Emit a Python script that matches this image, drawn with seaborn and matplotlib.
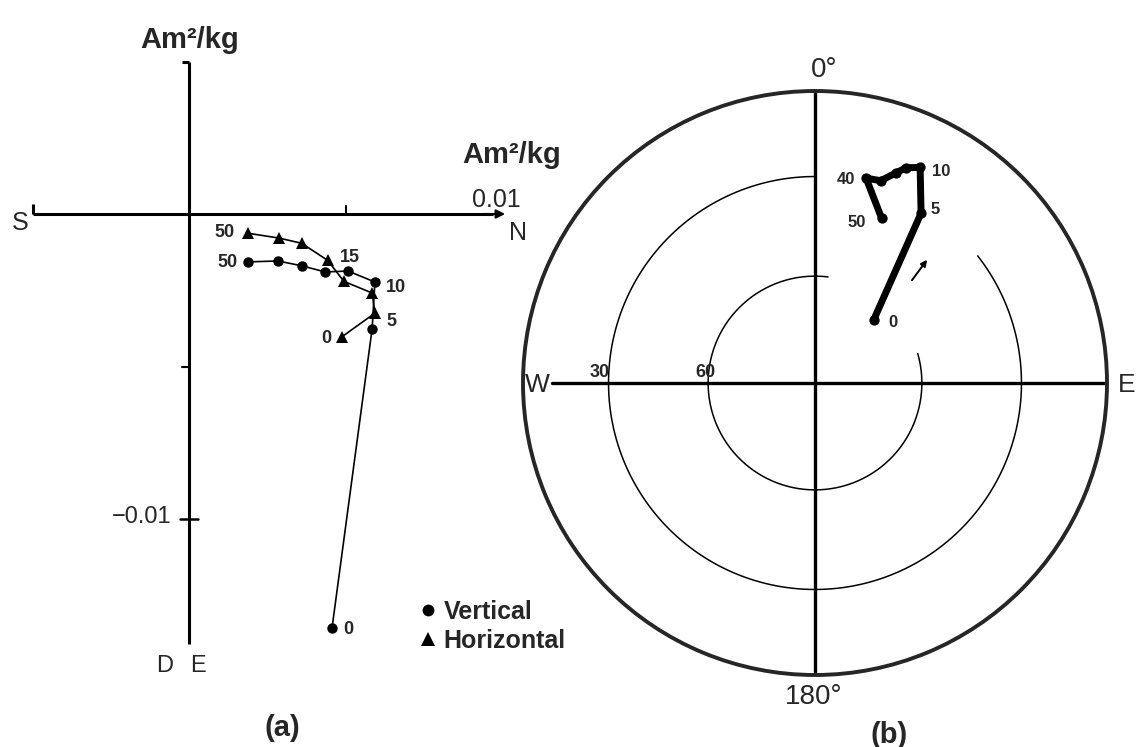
import numpy as np
import pandas as pd
import matplotlib
matplotlib.use("Agg")
import matplotlib.pyplot as plt
from matplotlib.lines import Line2D
import seaborn as sns

# AF demagnetization steps (mT)
steps = [0, 5, 10, 15, 20, 30, 40, 50]

# (a) orthogonal vector plot, components in Am^2/kg
vert_north = [0.00457, 0.00585, 0.00594, 0.00508, 0.00435, 0.00361, 0.00284, 0.00188]
vert_up = [-0.01357, -0.00377, -0.00223, -0.00187, -0.00190, -0.00170, -0.00154, -0.00157]
horiz_north = [0.00488, 0.00594, 0.00585, 0.00495, 0.00443, 0.00360, 0.00288, 0.00188]
horiz_east = [-0.00403, -0.00325, -0.00259, -0.00221, -0.00152, -0.00096, -0.00079, -0.00063]

# (b) direction path on the equal-area net (degrees)
declination = [43, 32, 26, 23, 21, 18, 14, 22]
inclination = [66, 32, 19, 21, 24, 28, 28.5, 39]

# inclination circles of the net and the arc ranges drawn for each (azimuth, deg)
net_circles = [30, 60]
net_arcs = [(52, 360), (74, 367)]

sns.set_style("white")
plt.rcParams["font.family"] = ["Liberation Sans", "DejaVu Sans"]

W, H = 1138, 747
fig = plt.figure(figsize=(W / 100, H / 100), dpi=100)


def fpos(px, py):
    return px / W, 1 - py / H


def ftext(px, py, s, **kw):
    x, y = fpos(px, py)
    fig.text(x, y, s, **kw)


def tag(ax, x, y, s, dx, dy, size=13):
    ax.annotate(s, (x, y), xytext=(dx, dy), textcoords="offset points",
                ha="center", va="center", fontsize=size, fontweight="bold")


# ---------------- (a) vector end-point diagram ----------------
X0, Y0, SX, SY = 189, 214, 31300.0, 30500.0
axa = fig.add_axes([0, 0, 560 / W, 1])

df_v = pd.DataFrame({"step": steps, "north": vert_north, "comp": vert_up})
df_h = pd.DataFrame({"step": steps, "north": horiz_north, "comp": horiz_east})
line_kw = dict(x="north", y="comp", sort=False, estimator=None,
               color="black", lw=1.2, ax=axa, legend=False)
sns.lineplot(data=df_v, marker="o", markersize=7.5, markeredgewidth=0, **line_kw)
sns.lineplot(data=df_h, marker="^", markersize=8.5, markeredgewidth=0, **line_kw)

# axes crosses
ax_kw = dict(color="black", lw=2.2, solid_capstyle="butt")
axa.plot([-0.005, 0.0097], [0, 0], **ax_kw)
axa.annotate("", xy=(0.0101, 0), xytext=(0.0094, 0),
             arrowprops=dict(arrowstyle="-|>", color="black", lw=1.5,
                             mutation_scale=13, shrinkA=0, shrinkB=0))
axa.plot([-0.005, -0.005], [0, 0.00033], **ax_kw)
axa.plot([0.005, 0.005], [0, 0.00025], color="black", lw=1.5)
axa.plot([0, 0], [-0.0141, 0.005], **ax_kw)
axa.plot([-0.00022, 0], [0.005, 0.005], **ax_kw)
axa.plot([-0.00022, 0], [-0.005, -0.005], color="black", lw=1.5)
axa.plot([-0.0003, 0.0003], [-0.01, -0.01], color="black", lw=1.8)

axa.set_xlim(-X0 / SX, (560 - X0) / SX)
axa.set_ylim((Y0 - H) / SY, Y0 / SY)
axa.set_axis_off()

# step labels
tag(axa, horiz_north[7], horiz_east[7], "50", -16.6, 0.7)
tag(axa, vert_north[7], vert_up[7], "50", -15, -0.7)
tag(axa, vert_north[3], vert_up[3], "15", 1.4, 10)
tag(axa, vert_north[2], vert_up[2], "10", 15, -4.3)
tag(axa, horiz_north[1], horiz_east[1], "5", 12.2, -5.8)
tag(axa, horiz_north[0], horiz_east[0], "0", -10.8, -1.4)
tag(axa, vert_north[0], vert_up[0], "0", 11.5, -1.4)

ftext(190, 48, "Am²/kg", ha="center", va="baseline", fontsize=21, fontweight="bold")
ftext(512, 163, "Am²/kg", ha="center", va="baseline", fontsize=21, fontweight="bold")
ftext(496, 207, "0.01", ha="center", va="baseline", fontsize=18)
ftext(20, 230, "S", ha="center", va="baseline", fontsize=18)
ftext(518, 240, "N", ha="center", va="baseline", fontsize=18)
ftext(171, 523, "−0.01", ha="right", va="baseline", fontsize=17)
ftext(165, 672, "D", ha="center", va="baseline", fontsize=17)
ftext(198, 672, "E", ha="center", va="baseline", fontsize=17)
ftext(282, 728, "(a)", ha="center", va="center", fontsize=21, fontweight="bold")

handles = [Line2D([], [], ls="none", marker="o", color="black", ms=8.5, mew=0),
           Line2D([], [], ls="none", marker="^", color="black", ms=10, mew=0)]
fig.legend(handles, ["Vertical", "Horizontal"], loc="upper left",
           bbox_to_anchor=fpos(420, 600), frameon=False,
           prop=dict(weight="bold", size=18), handlelength=0.6,
           handletextpad=0.35, labelspacing=0.2, borderpad=0, borderaxespad=0)

# ---------------- (b) equal-area projection ----------------
def eq_area(inc):
    return np.sqrt(2) * np.sin(np.radians(90 - np.asarray(inc, dtype=float)) / 2)


axb = fig.add_axes([523 / W, 1 - 675 / H, 584 / W, 584 / H], projection="polar")
axb.set_theta_zero_location("N")
axb.set_theta_direction(-1)

for inc, (a0, a1) in zip(net_circles, net_arcs):
    th = np.radians(np.linspace(a0, a1, 400))
    axb.plot(th, np.full_like(th, eq_area(inc)), color="black", lw=1.1)

axb.plot([0.5, 0.5], [0, 1], transform=axb.transAxes, color="black", lw=2.4)
axb.plot([(552 - 523) / 584, 1], [0.5, 0.5], transform=axb.transAxes,
         color="black", lw=2.4)

df_b = pd.DataFrame({"step": steps, "theta": np.radians(declination),
                     "r": eq_area(inclination)})
sns.lineplot(data=df_b, x="theta", y="r", sort=False, estimator=None,
             color="black", lw=5, ax=axb, solid_capstyle="round",
             solid_joinstyle="round")
sns.scatterplot(data=df_b, x="theta", y="r", color="black", s=55,
                linewidth=0, ax=axb)

th_b, r_b = df_b["theta"].values, df_b["r"].values
tag(axb, th_b[0], r_b[0], "0", 13.7, -1.4, 12)
tag(axb, th_b[1], r_b[1], "5", 10, 3, 12)
tag(axb, th_b[2], r_b[2], "10", 15, -3, 12)
tag(axb, th_b[6], r_b[6], "40", -14.4, -0.7, 12)
tag(axb, th_b[7], r_b[7], "50", -18, -3, 12)

axb.annotate("", xy=(0.692, 0.711), xytext=(0.666, 0.676), xycoords="axes fraction",
             arrowprops=dict(arrowstyle="-|>", color="black", lw=1.4,
                             mutation_scale=9, shrinkA=0, shrinkB=0))

axb.set_ylim(0, 1)
axb.set_xticks([])
axb.set_yticks([])
axb.grid(False)
axb.set_xlabel("")
axb.set_ylabel("")
axb.spines["polar"].set_linewidth(2.8)

ftext(600, 377, "30", ha="center", va="baseline", fontsize=13, fontweight="bold")
ftext(705, 377, "60", ha="center", va="baseline", fontsize=13, fontweight="bold")
ftext(811, 77, "0°", ha="left", va="baseline", fontsize=20)
ftext(814, 704, "180°", ha="center", va="baseline", fontsize=20)
ftext(537, 385, "W", ha="center", va="center", fontsize=19)
ftext(1127, 385, "E", ha="center", va="center", fontsize=19)
ftext(889, 735, "(b)", ha="center", va="center", fontsize=21, fontweight="bold")

fig.savefig("out.png", dpi=100, facecolor="white")
